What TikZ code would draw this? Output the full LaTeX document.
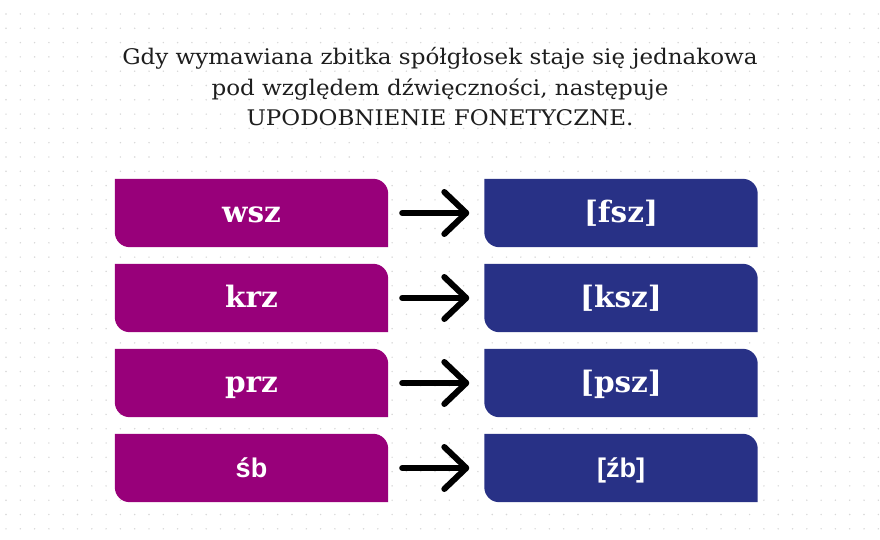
\documentclass[tikz,border=0pt]{standalone}
\usepackage{fontspec}
\setmainfont{DejaVu Serif}
\newfontfamily\slab{DejaVu Serif}[FakeStretch=1.07]
\newfontfamily\slabb{DejaVu Serif}[BoldFont={DejaVu Serif Bold}]
\newfontfamily\sansb{Liberation Sans}
\usetikzlibrary{arrows.meta,backgrounds}
\definecolor{pur}{RGB}{152,0,122}
\definecolor{blu}{RGB}{40,49,134}
\definecolor{ttl}{RGB}{30,30,30}
\definecolor{dotc}{RGB}{215,215,215}
\tikzset{
  boxnode/.style={minimum width=273pt, minimum height=68pt, inner sep=0pt, draw=none},
  lbl/.style={text=white, anchor=base, font=\slabb\bfseries\fontsize{29.5}{30}\selectfont},
  lbls/.style={text=white, anchor=base, font=\sansb\bfseries\fontsize{27}{30}\selectfont},
  conn/.style={line width=6pt, line cap=round, shorten <=14pt, shorten >=15pt,
    -{Straight Barb[length=22pt, width=42pt, line cap=round, line join=round]}},
  titletext/.style={text=ttl, align=center, font=\slab\fontsize{21.5}{30.5}\selectfont}
}
\newcommand{\shapebox}[2]{%
  \fill[#2] (#1.north west) -- ([xshift=-15pt]#1.north east)
    arc[start angle=90,end angle=0,radius=15pt] -- (#1.south east)
    -- ([xshift=15pt]#1.south west) arc[start angle=270,end angle=180,radius=15pt] -- cycle;}
\begin{document}
\begin{tikzpicture}[x=1pt,y=-1pt]
\useasboundingbox (0,0) rectangle (880,540);
% boxes
\foreach \i/\y in {1/213,2/298,3/383,4/468}{
  \node[boxnode] (L\i) at (251.5,\y) {};
  \node[boxnode] (R\i) at (621,\y) {};
}
\begin{scope}[on background layer]
  \fill[white] (0,0) rectangle (880,540);
  \foreach \i in {0,...,61}{
    \foreach \j in {0,...,37}{
      \fill[dotc] (6+\i*14.3, 14+\j*14.3) circle[radius=0.8pt];
    }
  }
  \foreach \i in {1,...,4}{
    \shapebox{L\i}{pur}
    \shapebox{R\i}{blu}
  }
\end{scope}
\node[titletext] (title) at (440,87) {Gdy wymawiana zbitka spółgłosek staje się jednakowa\\pod względem dźwięczności, następuje\\UPODOBNIENIE FONETYCZNE.};
\node[lbl] (tL1) at ([yshift=-9.5pt]L1.center) {wsz};
\node[lbl] (tL2) at ([yshift=-9.5pt]L2.center) {krz};
\node[lbl] (tL3) at ([yshift=-9.5pt]L3.center) {prz};
\node[lbls] (tL4) at ([yshift=-9.5pt]L4.center) {śb};
\node[lbl] (tR1) at ([yshift=-9.5pt]R1.center) {[fsz]};
\node[lbl] (tR2) at ([yshift=-9.5pt]R2.center) {[ksz]};
\node[lbl] (tR3) at ([yshift=-9.5pt]R3.center) {[psz]};
\node[lbls] (tR4) at ([yshift=-9.5pt]R4.center) {[źb]};
\foreach \i in {1,...,4}{
  \draw[conn] (L\i.east) -- (R\i.west);
}
\end{tikzpicture}
\end{document}
